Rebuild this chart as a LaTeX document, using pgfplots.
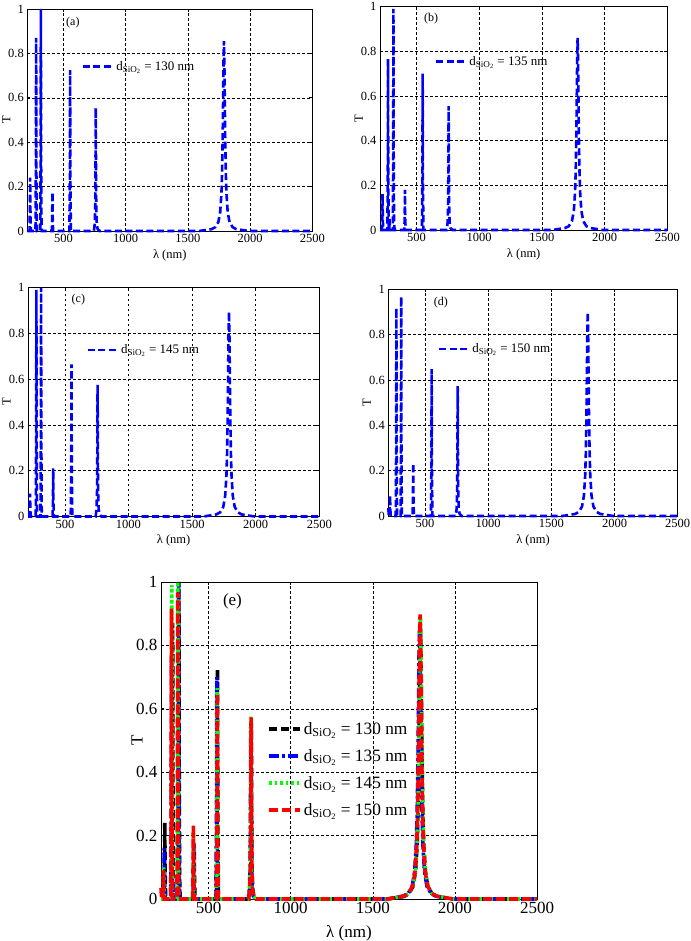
\documentclass[border=0pt]{standalone}
\usepackage{fontspec}
\setmainfont{Liberation Serif}
\usepackage{pgfplots}
\usepackage{pgfplotstable}
\pgfplotsset{compat=1.18}

\pgfplotstableread{
x y
210 0
228 0
231 0.10
233 0.24
235 0.10
238 0
276 0
279 0.30
281 0.87
283 0.30
286 0
314 0
317 0.35
319 1.0
321 0.35
324 0.04
327 0
407 0
410 0.06
412 0.175
414 0.06
417 0
548 0
552 0.25
554 0.725
556 0.25
560 0
745 0
752 0.033
756 0.111
758 0.278
759 0.444
760 0.555
761 0.444
762 0.278
764 0.111
768 0.033
775 0.009
790 0
1590 0
1690 0.008
1720 0.017
1745 0.040
1760 0.086
1770 0.171
1775 0.263
1780 0.428
1784 0.628
1787 0.784
1790 0.855
1793 0.784
1796 0.628
1800 0.428
1805 0.263
1810 0.171
1820 0.086
1835 0.040
1860 0.017
1890 0.008
1990 0
2500 0
}\tabA

\pgfplotstableread{
x y
210 0
225 0
228 0.06
230 0.16
232 0.06
235 0
269 0
272 0.26
274 0.765
276 0.26
279 0
283 0
286 0.05
289 0
312 0
315 0.34
317 0.99
319 0.34
322 0.05
326 0
404 0
407 0.06
409 0.18
411 0.06
414 0
544 0
548 0.24
550 0.70
552 0.24
556 0
742 0
749 0.033
753 0.111
755 0.278
756 0.444
757 0.555
758 0.444
759 0.278
761 0.111
765 0.033
772 0.009
787 0
1585 0
1685 0.009
1715 0.017
1740 0.040
1755 0.086
1765 0.172
1770 0.265
1775 0.430
1779 0.632
1782 0.789
1785 0.860
1788 0.789
1791 0.632
1795 0.430
1800 0.265
1805 0.172
1815 0.086
1830 0.040
1855 0.017
1885 0.009
1985 0
2500 0
}\tabB

\pgfplotstableread{
x y
210 0
221 0
224 0.04
226 0.10
228 0.04
231 0
271 0
274 0.34
276 0.99
278 0.34
281 0
308 0
311 0.34
313 1.0
315 0.34
318 0
403 0
406 0.07
408 0.21
410 0.07
413 0
546 0
550 0.23
552 0.665
554 0.23
558 0
742 0
749 0.034
753 0.115
755 0.288
756 0.46
757 0.575
758 0.46
759 0.288
761 0.115
765 0.034
772 0.010
787 0
1590 0
1690 0.009
1720 0.018
1745 0.042
1760 0.090
1770 0.179
1775 0.276
1780 0.448
1784 0.658
1787 0.821
1790 0.895
1793 0.821
1796 0.658
1800 0.448
1805 0.276
1810 0.179
1820 0.090
1835 0.042
1860 0.018
1890 0.009
1990 0
2500 0
}\tabC

\pgfplotstableread{
x y
210 0.035
213 0.01
216 0
219 0
222 0.03
224 0.09
226 0.03
229 0
269 0
272 0.31
274 0.916
276 0.31
279 0
307 0
310 0.33
312 0.967
314 0.33
317 0
402 0
405 0.08
407 0.232
409 0.08
412 0
547 0
551 0.22
553 0.648
555 0.22
559 0
744 0
751 0.034
755 0.115
757 0.287
758 0.458
759 0.573
760 0.458
761 0.287
763 0.115
767 0.034
774 0.010
789 0
1588 0
1688 0.009
1718 0.018
1743 0.042
1758 0.090
1768 0.180
1773 0.277
1778 0.449
1782 0.660
1785 0.823
1788 0.898
1791 0.823
1794 0.660
1798 0.449
1803 0.277
1808 0.180
1818 0.090
1833 0.042
1858 0.018
1888 0.009
1988 0
2500 0
}\tabD

\definecolor{pblue}{RGB}{0,0,255}
\definecolor{pgreen}{RGB}{0,255,0}
\definecolor{pred}{RGB}{255,0,0}

\pgfplotsset{
  common/.style={
    scale only axis, anchor=south west,
    xmin=210, xmax=2500, ymin=0, ymax=1,
    xtick={500,1000,1500,2000,2500},
    ytick={0,0.2,0.4,0.6,0.8,1},
    grid=major,
    major grid style={black, line width=0.5pt, dash pattern=on 2.5pt off 2.5pt},
    axis line style={black, line width=0.8pt},
    tick style={black, line width=0.6pt},
    major tick length=3pt, tick align=inside,
    /pgf/number format/assume math mode=true,
    /pgf/number format/1000 sep={},
    clip=false,
    xlabel={λ (nm)}, ylabel={T},
    legend cell align=left,
  },
  small/.style={
    common,
    ticklabel style={font=\fontsize{12.5}{13}\selectfont},
    label style={font=\fontsize{12.5}{13}\selectfont},
    ylabel style={at={(axis description cs:-0.074,0.5)}, anchor=center},
    xlabel style={at={(axis description cs:0.5,0)}, anchor=center, yshift=-24pt},
    legend style={draw=none, fill=none, anchor=west, inner sep=0pt,
      font=\fontsize{13}{14}\selectfont},
    legend image code/.code={\draw[##1] (0pt,0pt) -- (30pt,0pt);},
  },
  sline/.style={pblue, line width=2.6pt, dash pattern=on 7pt off 3.5pt},
}

\begin{document}
\begin{tikzpicture}
\path[use as bounding box] (0pt,0pt) rectangle (690pt,941pt);

% (a)
\begin{axis}[small, at={(27.3pt,710pt)}, width=285pt, height=222pt,
  legend style={at={(0.19,0.74)}}]
\addplot[sline] table[x=x,y=y] {\tabA};
\legend{d\textsubscript{SiO\textsubscript{2}} = 130 nm}
\node[font=\fontsize{12}{12}\selectfont] at (rel axis cs:0.16,0.94) {(a)};
\end{axis}

% (b)
\begin{axis}[small, at={(380pt,711pt)}, width=287.3pt, height=223.3pt,
  legend style={at={(0.19,0.754)}}]
\addplot[sline] table[x=x,y=y] {\tabB};
\legend{d\textsubscript{SiO\textsubscript{2}} = 135 nm}
\node[font=\fontsize{12}{12}\selectfont] at (rel axis cs:0.178,0.948) {(b)};
\end{axis}

% (c)
\begin{axis}[small, at={(28pt,424.5pt)}, width=291.3pt, height=228.8pt,
  legend style={at={(0.2,0.728)}}]
\addplot[sline] table[x=x,y=y] {\tabC};
\legend{d\textsubscript{SiO\textsubscript{2}} = 145 nm}
\node[font=\fontsize{12}{12}\selectfont] at (rel axis cs:0.173,0.95) {(c)};
\end{axis}

% (d)
\begin{axis}[small, at={(388.3pt,425pt)}, width=289.4pt, height=226.7pt,
  legend style={at={(0.17,0.737)}}]
\addplot[sline] table[x=x,y=y] {\tabD};
\legend{d\textsubscript{SiO\textsubscript{2}} = 150 nm}
\node[font=\fontsize{12}{12}\selectfont] at (rel axis cs:0.182,0.943) {(d)};
\end{axis}

% (e)
\begin{axis}[common, at={(161pt,42pt)}, width=376pt, height=317pt,
  ticklabel style={font=\fontsize{17}{18}\selectfont},
  label style={font=\fontsize{17}{18}\selectfont},
  ylabel style={at={(axis description cs:-0.064,0.5)}, anchor=center},
  xlabel style={at={(axis description cs:0.5,0)}, anchor=center, yshift=-34pt},
  legend style={draw=none, fill=none, at={(0.282,0.565)}, anchor=north west,
    inner sep=0pt, row sep=9.5pt, font=\fontsize{17.3}{18}\selectfont},
  legend image code/.code={\draw[#1] (0pt,0pt) -- (31pt,0pt);},
]
\addplot[black, line width=3.6pt, dash pattern=on 8pt off 4pt] table[x=x,y=y] {\tabA};
\addlegendentry{d\textsubscript{SiO\textsubscript{2}} = 130 nm}
\addplot[pblue, line width=3.6pt, dash pattern=on 10pt off 3pt on 3pt off 3pt] table[x=x,y=y] {\tabB};
\addlegendentry{d\textsubscript{SiO\textsubscript{2}} = 135 nm}
\addplot[pgreen, line width=3.6pt, dash pattern=on 2.5pt off 3pt] table[x=x,y=y] {\tabC};
\addlegendentry{d\textsubscript{SiO\textsubscript{2}} = 145 nm}
\addplot[pred, line width=3.6pt, dash pattern=on 9pt off 4pt] table[x=x,y=y] {\tabD};
\addlegendentry{d\textsubscript{SiO\textsubscript{2}} = 150 nm}
\node[font=\fontsize{17}{17}\selectfont] at (rel axis cs:0.19,0.94) {(e)};
\end{axis}
\end{tikzpicture}
\end{document}
